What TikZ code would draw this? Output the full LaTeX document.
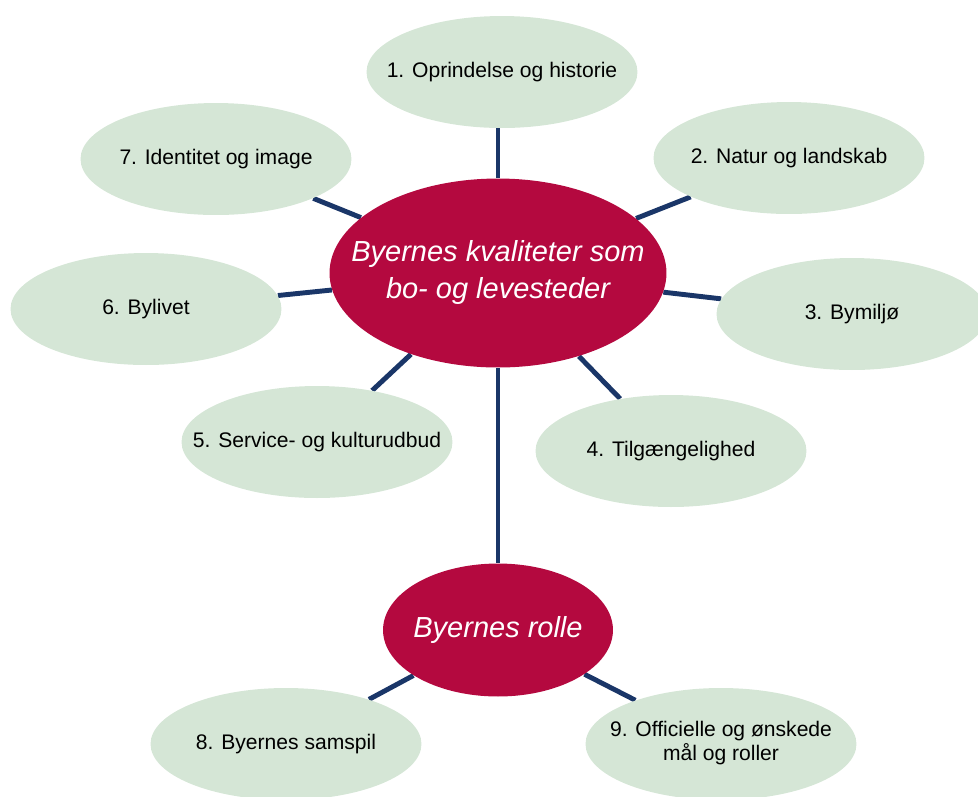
\documentclass[tikz,border=0pt]{standalone}
\usepackage{fontspec}
\setmainfont{Liberation Sans}
\usetikzlibrary{shapes,positioning,backgrounds}
\definecolor{feltgroen}{HTML}{D5E6D6}
\definecolor{byrod}{HTML}{B4093F}
\definecolor{stregblaa}{HTML}{1A3668}
\newcommand{\smal}[1]{\makebox[0pt]{#1}}

\begin{document}
\begin{tikzpicture}[x=0.02cm, y=-0.02cm]
  \tikzstyle{emne}=[ellipse, fill=feltgroen, inner sep=0pt, minimum width=5.42cm, minimum height=2.24cm, font=\fontsize{12}{13.6}\selectfont]
  \tikzstyle{hoved}=[ellipse, fill=byrod, inner sep=0pt, text=white, font=\fontsize{16.5}{21}\selectfont\itshape]
  \tikzstyle{forb}=[line width=2.8pt, draw=stregblaa]

  \useasboundingbox (0,0) rectangle (978,796);
  \clip (0,0) rectangle (978,796);

  % Hovedemner
  \node[hoved, minimum width=6.74cm, minimum height=3.78cm] (kval) at (498,273) {\smal{\begin{tabular}{@{}c@{}}Byernes kvaliteter som\\ bo- og levesteder\end{tabular}}};
  \node[hoved, minimum width=4.6cm, minimum height=2.66cm] (rolle) at (498,630) {\smal{Byernes rolle}};

  % Kvaliteter
  \node[emne] (t1) at (502,72) {\smal{1. Oprindelse og historie}};
  \node[emne] (t2) at (789,158) {\smal{2. Natur og landskab}};
  \node[emne] (t3) at (852,314) {\smal{3. Bymiljø}};
  \node[emne] (t4) at (671,451) {\smal{4. Tilgængelighed}};
  \node[emne] (t5) at (317,442) {\smal{5. Service- og kulturudbud}};
  \node[emne] (t6) at (146,309) {\smal{6. Bylivet}};
  \node[emne] (t7) at (216,159) {\smal{7. Identitet og image}};

  % Roller
  \node[emne] (t8) at (286,744) {\smal{8. Byernes samspil}};
  \node[emne] (t9) at (721,744) {\smal{\begin{tabular}{@{}c@{}}9. Officielle og ønskede\\ mål og roller\end{tabular}}};

  \begin{scope}[on background layer]
    \draw[forb] (kval) -- (kval |- t1);
    \foreach \t in {t2,t3,t4,t5,t6,t7}
      \draw[forb] (kval) -- (\t);
    \draw[forb] (kval) -- (rolle);
    \draw[forb] (rolle) -- (t8);
    \draw[forb] (rolle) -- (t9);
  \end{scope}
\end{tikzpicture}
\end{document}
